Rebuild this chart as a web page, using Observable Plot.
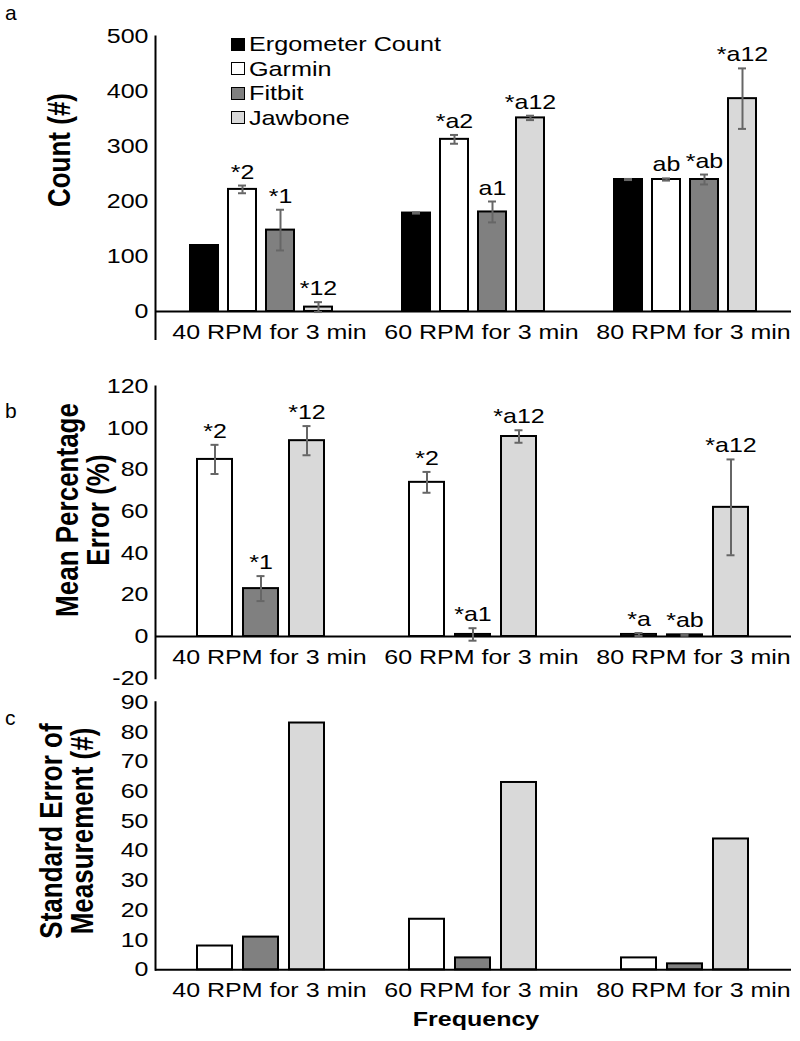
<!DOCTYPE html>
<html>
<head>
<meta charset="utf-8">
<script src="https://cdn.jsdelivr.net/npm/d3@7"></script>
<script src="https://cdn.jsdelivr.net/npm/@observablehq/plot@0.6"></script>
<style>
  html, body { margin: 0; padding: 0; background: #fff; }
  #fig { position: relative; width: 800px; height: 1041px; font-family: "Liberation Sans", Arial, sans-serif; color: #000; }
  #fig svg { display: block; }
  .abs { position: absolute; white-space: nowrap; line-height: 1; }
  .letter { font-size: 21px; }
  .rot { position: absolute; width: 0; height: 0; transform: scaleX(1.2) rotate(-90deg); transform-origin: 0 0; }
  .rot .inner { position: absolute; left: 0; top: 0; transform: translate(-50%, -50%); white-space: nowrap; text-align: center; font-weight: bold; font-size: 26px; line-height: 1.0; }
  .legend { position: absolute; left: 231px; top: 32px; }
  .legend .row { display: flex; align-items: center; height: 24.5px; }
  .legend .sw { width: 14px; height: 13px; box-sizing: border-box; border: 1.3px solid #000; margin-right: 4px; flex: none; }
  .legend .lab { font-size: 21px; transform: scaleX(1.2); transform-origin: 0 50%; white-space: nowrap; }
  .xtitle { font-weight: bold; font-size: 20px; transform: translateX(-50%) scaleX(1.25); transform-origin: 50% 0; }
</style>
</head>
<body>
<div id="fig"></div>
<script>
// ---------- data ----------
const groups = ["40 RPM for 3 min", "60 RPM for 3 min", "80 RPM for 3 min"];
const seriesA = ["Ergometer Count", "Garmin", "Fitbit", "Jawbone"];
const seriesB = ["Garmin", "Fitbit", "Jawbone"];
const seriesFill = ["#000000", "#ffffff", "#808080", "#d9d9d9"];

// panel a: Count (#)
const countVals = [[120, 222, 148, 8], [179, 313, 181, 352], [240, 240, 240, 387]];
const countErr  = [[0, 7, 37, 9], [1, 8, 19, 4], [1, 2, 9, 55]];
const countLab  = [["", "*2", "*1", "*12"], ["", "*a2", "a1", "*a12"], ["", "ab", "*ab", "*a12"]];
const countTicks = [0, 100, 200, 300, 400, 500];

// panel b: Mean Percentage Error (%)
const mpeVals = [[85, 23, 94], [74, 1, 96], [1, 0.8, 62]];
const mpeErr  = [[7, 6, 7], [5, 3, 3], [0.7, 0.4, 23]];
const mpeLab  = [["*2", "*1", "*12"], ["*2", "*a1", "*a12"], ["*a", "*ab", "*a12"]];
const mpeTicks = [-20, 0, 20, 40, 60, 80, 100, 120];

// panel c: Standard Error of Measurement (#)
const semVals = [[8, 11, 83], [17, 4, 63], [4, 2, 44]];
const semTicks = [0, 10, 20, 30, 40, 50, 60, 70, 80, 90];

function table(series, vals, errs, labs) {
  return groups.flatMap((g, gi) => series.map((s, si) => ({
    group: g, series: s, value: vals[gi][si],
    err: errs ? errs[gi][si] : 0,
    label: labs ? labs[gi][si] : ""
  })));
}

const FONT = '"Liberation Sans", Arial, sans-serif';

function panel({data, series, height, marginTop, marginBottom, domain, ticks, paddingInner, paddingOuter, capInset, labelDy}) {
  const errData = data.filter(d => d.err > 0);
  const annData = data.filter(d => d.label);
  return Plot.plot({
    width: 800, height,
    marginLeft: 154, marginRight: 8, marginTop, marginBottom,
    style: {fontFamily: FONT, fontSize: "20.5px", color: "#000", background: "transparent", overflow: "visible"},
    fx: {domain: groups, padding: 0, axis: null, label: null},
    x: {domain: series, paddingInner, paddingOuter, axis: null},
    y: {domain},
    color: {domain: seriesA, range: seriesFill},
    marks: [
      Plot.barY(data, {fx: "group", x: "series", y: "value", fill: "series", stroke: "#000", strokeWidth: 2}),
      Plot.ruleY([0], {stroke: "#000", strokeWidth: 2}),
      Plot.ruleX(errData, {fx: "group", x: "series", y1: d => d.value - d.err, y2: d => d.value + d.err, stroke: "#666", strokeWidth: 2}),
      Plot.tickY(errData, {fx: "group", x: "series", y: d => d.value - d.err, stroke: "#666", strokeWidth: 2, insetLeft: capInset, insetRight: capInset}),
      Plot.tickY(errData, {fx: "group", x: "series", y: d => d.value + d.err, stroke: "#666", strokeWidth: 2, insetLeft: capInset, insetRight: capInset}),
      Plot.text(annData, {fx: "group", x: "series", y: d => d.value + d.err, text: "label", lineAnchor: "bottom", dy: -7, fill: "#000"}),
      Plot.text(groups, {fx: d => d, text: d => d, frameAnchor: "bottom", lineAnchor: "bottom", dx: 8, dy: labelDy, fill: "#000"}),
      Plot.axisY({ticks, tickSize: 0, tickPadding: 7, tickFormat: d => String(d), label: null, fill: "#000"}),
      Plot.frame({anchor: "left", stroke: "#000", strokeWidth: 2, facetAnchor: "left"})
    ]
  });
}

const fig = document.getElementById("fig");

const pa = panel({
  data: table(seriesA, countVals, countErr, countLab), series: seriesA,
  height: 345, marginTop: 36, marginBottom: 6.5, domain: [-50, 500], ticks: countTicks,
  paddingInner: 0.256, paddingOuter: 0.855, capInset: 10, labelDy: -0.5
});
const pb = panel({
  data: table(seriesB, mpeVals, mpeErr, mpeLab), series: seriesB,
  height: 345, marginTop: 41, marginBottom: 12.3, domain: [-20, 120], ticks: mpeTicks,
  paddingInner: 0.234, paddingOuter: 0.88, capInset: 13.5, labelDy: -14.7
});
const pc = panel({
  data: table(seriesB, semVals), series: seriesB,
  height: 351, marginTop: 11.7, marginBottom: 71.7, domain: [0, 90], ticks: semTicks,
  paddingInner: 0.234, paddingOuter: 0.88, capInset: 13.5, labelDy: 26.7
});
fig.append(pa, pb, pc);

// horizontal stretch of glyphs, as in the reference figure
fig.querySelectorAll("svg text").forEach(t => {
  const tr = t.getAttribute("transform");
  if (tr && /^translate\(/.test(tr)) {
    t.setAttribute("transform", tr.replace(/^(translate\([^)]*\))/, "$1 scale(1.22,1)"));
  }
});

// panel letters
[["a", 2], ["b", 400], ["c", 707]].forEach(([s, top]) => {
  const d = document.createElement("div");
  d.className = "abs letter";
  d.style.left = "5px"; d.style.top = top + "px";
  d.textContent = s;
  fig.append(d);
});

// rotated y titles
[[["Count (#)"], 59, 149.5], [["Mean Percentage", "Error (%)"], 82.5, 510], [["Standard Error of", "Measurement (#)"], 67, 831]].forEach(([lines, cx, cy]) => {
  const o = document.createElement("div");
  o.className = "rot";
  o.style.left = cx + "px"; o.style.top = cy + "px";
  const i = document.createElement("div");
  i.className = "inner";
  lines.forEach((l, k) => { if (k) i.append(document.createElement("br")); i.append(l); });
  o.append(i);
  fig.append(o);
});

// x title
const xt = document.createElement("div");
xt.className = "abs xtitle";
xt.style.left = "476px"; xt.style.top = "1009px";
xt.textContent = "Frequency";
fig.append(xt);

// legend
const lg = document.createElement("div");
lg.className = "legend";
seriesA.forEach((s, i) => {
  const r = document.createElement("div");
  r.className = "row";
  const sw = document.createElement("span");
  sw.className = "sw"; sw.style.background = seriesFill[i];
  const lb = document.createElement("span");
  lb.className = "lab"; lb.textContent = s;
  r.append(sw, lb);
  lg.append(r);
});
fig.append(lg);
</script>
</body>
</html>
